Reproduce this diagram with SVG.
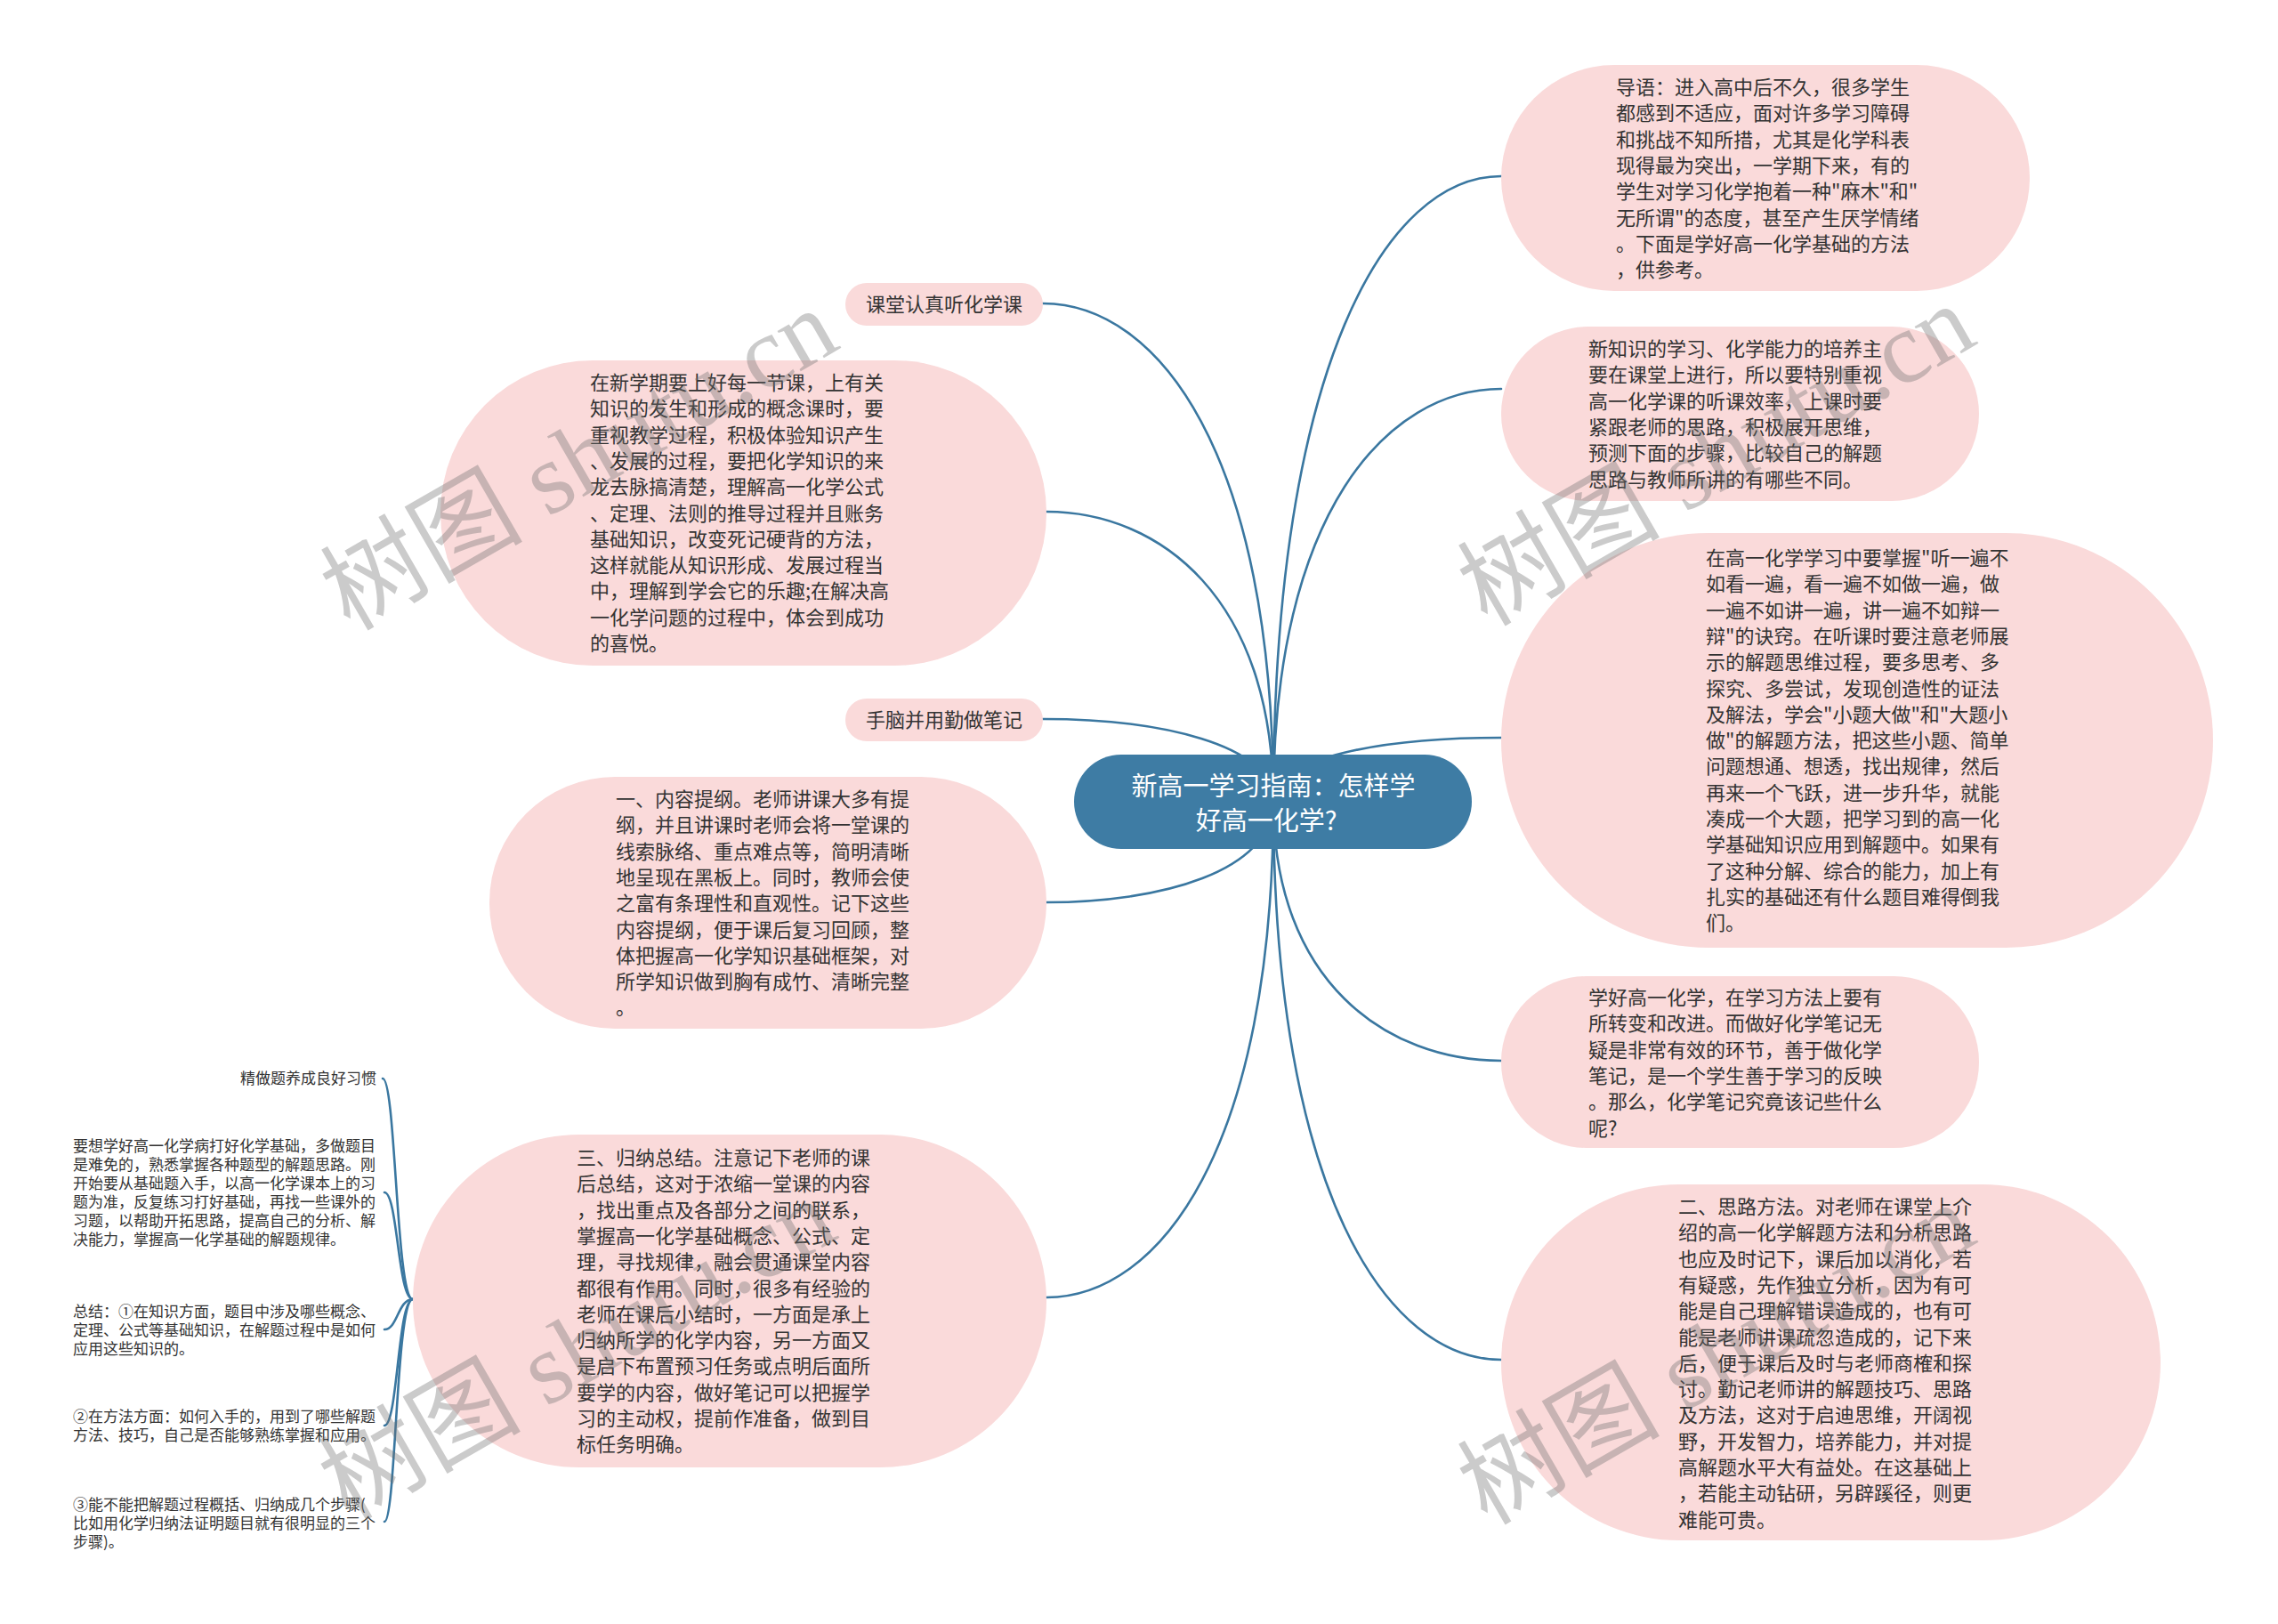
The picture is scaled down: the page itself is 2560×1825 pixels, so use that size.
<svg xmlns="http://www.w3.org/2000/svg" width="2560" height="1825" viewBox="0 0 2560 1825">
<style>
.bg{fill:#ffffff}
.node{fill:#fadada}
.root{fill:#3e7ca4}
.t{font-family:"Noto Sans CJK SC","Noto Sans",sans-serif;font-size:22px;fill:#333333}
.rt{font-family:"Noto Sans CJK SC","Noto Sans",sans-serif;font-size:29px;fill:#ffffff}
.lt{font-family:"Noto Sans CJK SC","Noto Sans",sans-serif;font-size:17px;fill:#333333}
.edge{fill:none;stroke:#3a77a0;stroke-width:2.6;stroke-linecap:round}
.wm{font-family:"Liberation Serif","Noto Sans CJK SC",serif;font-size:114px;fill:#707070;opacity:0.36}
</style>
<rect class="bg" x="0" y="0" width="2560" height="1825"/>
<g id="connectors">
<path class="edge" d="M1431,900 C1431,409 1559,198 1687,198"/>
<path class="edge" d="M1431,900 C1431,576 1559,437 1687,437"/>
<path class="edge" d="M1431,900 C1431,850 1559,829 1687,829"/>
<path class="edge" d="M1431,900 C1431,1104 1559,1192 1687,1192"/>
<path class="edge" d="M1431,900 C1431,1340 1559,1528 1687,1528"/>
<path class="edge" d="M1431,900 C1431,509 1301,341 1172,341"/>
<path class="edge" d="M1431,900 C1431,672 1303,575 1176,575"/>
<path class="edge" d="M1431,900 C1431,836 1301,808 1172,808"/>
<path class="edge" d="M1431,900 C1431,980 1303,1014 1176,1014"/>
<path class="edge" d="M1431,900 C1431,1291 1303,1458 1176,1458"/>
<path class="edge" d="M464,1460 C445,1460 445,1212 430,1212"/>
<path class="edge" d="M464,1460 C447,1460 447,1340 432,1340"/>
<path class="edge" d="M464,1460 C447,1460 447,1494 432,1494"/>
<path class="edge" d="M464,1460 C447,1460 447,1602 432,1602"/>
<path class="edge" d="M464,1460 C445,1460 445,1710 432,1710"/>
</g>
<g id="root">
<rect class="root" x="1207" y="848" width="447" height="106" rx="53"/>
<text class="rt" text-anchor="middle"><tspan x="1431" y="894">新高一学习指南：怎样学</tspan><tspan x="1423" y="933">好高一化学?</tspan></text>
</g>
<g id="n1">
<rect class="node" x="1687" y="73" width="594" height="254" rx="127"/>
<text class="t" x="1816" y="106"><tspan x="1816">导语：进入高中后不久，很多学生</tspan><tspan x="1816" dy="29.3">都感到不适应，面对许多学习障碍</tspan><tspan x="1816" dy="29.3">和挑战不知所措，尤其是化学科表</tspan><tspan x="1816" dy="29.3">现得最为突出，一学期下来，有的</tspan><tspan x="1816" dy="29.3">学生对学习化学抱着一种"麻木"和"</tspan><tspan x="1816" dy="29.3">无所谓"的态度，甚至产生厌学情绪</tspan><tspan x="1816" dy="29.3">。下面是学好高一化学基础的方法</tspan><tspan x="1816" dy="29.3">，供参考。</tspan></text>
</g>
<g id="n2">
<rect class="node" x="1687" y="367" width="537" height="196" rx="98"/>
<text class="t" x="1785" y="400"><tspan x="1785">新知识的学习、化学能力的培养主</tspan><tspan x="1785" dy="29.3">要在课堂上进行，所以要特别重视</tspan><tspan x="1785" dy="29.3">高一化学课的听课效率，上课时要</tspan><tspan x="1785" dy="29.3">紧跟老师的思路，积极展开思维，</tspan><tspan x="1785" dy="29.3">预测下面的步骤，比较自己的解题</tspan><tspan x="1785" dy="29.3">思路与教师所讲的有哪些不同。</tspan></text>
</g>
<g id="n3">
<rect class="node" x="1687" y="599" width="800" height="466" rx="233"/>
<text class="t" x="1917" y="635"><tspan x="1917">在高一化学学习中要掌握"听一遍不</tspan><tspan x="1917" dy="29.3">如看一遍，看一遍不如做一遍，做</tspan><tspan x="1917" dy="29.3">一遍不如讲一遍，讲一遍不如辩一</tspan><tspan x="1917" dy="29.3">辩"的诀窍。在听课时要注意老师展</tspan><tspan x="1917" dy="29.3">示的解题思维过程，要多思考、多</tspan><tspan x="1917" dy="29.3">探究、多尝试，发现创造性的证法</tspan><tspan x="1917" dy="29.3">及解法，学会"小题大做"和"大题小</tspan><tspan x="1917" dy="29.3">做"的解题方法，把这些小题、简单</tspan><tspan x="1917" dy="29.3">问题想通、想透，找出规律，然后</tspan><tspan x="1917" dy="29.3">再来一个飞跃，进一步升华，就能</tspan><tspan x="1917" dy="29.3">凑成一个大题，把学习到的高一化</tspan><tspan x="1917" dy="29.3">学基础知识应用到解题中。如果有</tspan><tspan x="1917" dy="29.3">了这种分解、综合的能力，加上有</tspan><tspan x="1917" dy="29.3">扎实的基础还有什么题目难得倒我</tspan><tspan x="1917" dy="29.3">们。</tspan></text>
</g>
<g id="n4">
<rect class="node" x="1687" y="1097" width="537" height="193" rx="96"/>
<text class="t" x="1785" y="1129"><tspan x="1785">学好高一化学，在学习方法上要有</tspan><tspan x="1785" dy="29.3">所转变和改进。而做好化学笔记无</tspan><tspan x="1785" dy="29.3">疑是非常有效的环节，善于做化学</tspan><tspan x="1785" dy="29.3">笔记，是一个学生善于学习的反映</tspan><tspan x="1785" dy="29.3">。那么，化学笔记究竟该记些什么</tspan><tspan x="1785" dy="29.3">呢?</tspan></text>
</g>
<g id="n5">
<rect class="node" x="1687" y="1331" width="741" height="400" rx="200"/>
<text class="t" x="1886" y="1364"><tspan x="1886">二、思路方法。对老师在课堂上介</tspan><tspan x="1886" dy="29.3">绍的高一化学解题方法和分析思路</tspan><tspan x="1886" dy="29.3">也应及时记下，课后加以消化，若</tspan><tspan x="1886" dy="29.3">有疑惑，先作独立分析，因为有可</tspan><tspan x="1886" dy="29.3">能是自己理解错误造成的，也有可</tspan><tspan x="1886" dy="29.3">能是老师讲课疏忽造成的，记下来</tspan><tspan x="1886" dy="29.3">后，便于课后及时与老师商榷和探</tspan><tspan x="1886" dy="29.3">讨。勤记老师讲的解题技巧、思路</tspan><tspan x="1886" dy="29.3">及方法，这对于启迪思维，开阔视</tspan><tspan x="1886" dy="29.3">野，开发智力，培养能力，并对提</tspan><tspan x="1886" dy="29.3">高解题水平大有益处。在这基础上</tspan><tspan x="1886" dy="29.3">，若能主动钻研，另辟蹊径，则更</tspan><tspan x="1886" dy="29.3">难能可贵。</tspan></text>
</g>
<g id="n6">
<rect class="node" x="950" y="318" width="222" height="48" rx="24"/>
<text class="t" x="1061" y="350" text-anchor="middle">课堂认真听化学课</text>
</g>
<g id="n7">
<rect class="node" x="495" y="405" width="681" height="343" rx="171"/>
<text class="t" x="663" y="438"><tspan x="663">在新学期要上好每一节课，上有关</tspan><tspan x="663" dy="29.3">知识的发生和形成的概念课时，要</tspan><tspan x="663" dy="29.3">重视教学过程，积极体验知识产生</tspan><tspan x="663" dy="29.3">、发展的过程，要把化学知识的来</tspan><tspan x="663" dy="29.3">龙去脉搞清楚，理解高一化学公式</tspan><tspan x="663" dy="29.3">、定理、法则的推导过程并且账务</tspan><tspan x="663" dy="29.3">基础知识，改变死记硬背的方法，</tspan><tspan x="663" dy="29.3">这样就能从知识形成、发展过程当</tspan><tspan x="663" dy="29.3">中，理解到学会它的乐趣;在解决高</tspan><tspan x="663" dy="29.3">一化学问题的过程中，体会到成功</tspan><tspan x="663" dy="29.3">的喜悦。</tspan></text>
</g>
<g id="n8">
<rect class="node" x="950" y="785" width="222" height="48" rx="24"/>
<text class="t" x="1061" y="817" text-anchor="middle">手脑并用勤做笔记</text>
</g>
<g id="n9">
<rect class="node" x="550" y="873" width="626" height="283" rx="141"/>
<text class="t" x="692" y="906"><tspan x="692">一、内容提纲。老师讲课大多有提</tspan><tspan x="692" dy="29.3">纲，并且讲课时老师会将一堂课的</tspan><tspan x="692" dy="29.3">线索脉络、重点难点等，简明清晰</tspan><tspan x="692" dy="29.3">地呈现在黑板上。同时，教师会使</tspan><tspan x="692" dy="29.3">之富有条理性和直观性。记下这些</tspan><tspan x="692" dy="29.3">内容提纲，便于课后复习回顾，整</tspan><tspan x="692" dy="29.3">体把握高一化学知识基础框架，对</tspan><tspan x="692" dy="29.3">所学知识做到胸有成竹、清晰完整</tspan><tspan x="692" dy="29.3">。</tspan></text>
</g>
<g id="n10">
<rect class="node" x="464" y="1275" width="712" height="374" rx="187"/>
<text class="t" x="648" y="1309"><tspan x="648">三、归纳总结。注意记下老师的课</tspan><tspan x="648" dy="29.3">后总结，这对于浓缩一堂课的内容</tspan><tspan x="648" dy="29.3">，找出重点及各部分之间的联系，</tspan><tspan x="648" dy="29.3">掌握高一化学基础概念、公式、定</tspan><tspan x="648" dy="29.3">理，寻找规律，融会贯通课堂内容</tspan><tspan x="648" dy="29.3">都很有作用。同时，很多有经验的</tspan><tspan x="648" dy="29.3">老师在课后小结时，一方面是承上</tspan><tspan x="648" dy="29.3">归纳所学的化学内容，另一方面又</tspan><tspan x="648" dy="29.3">是启下布置预习任务或点明后面所</tspan><tspan x="648" dy="29.3">要学的内容，做好笔记可以把握学</tspan><tspan x="648" dy="29.3">习的主动权，提前作准备，做到目</tspan><tspan x="648" dy="29.3">标任务明确。</tspan></text>
</g>
<g id="n11">
<text class="lt" x="423" y="1218" text-anchor="end">精做题养成良好习惯</text>
</g>
<g id="n12">
<text class="lt" x="82" y="1294"><tspan x="82">要想学好高一化学病打好化学基础，多做题目</tspan><tspan x="82" dy="21">是难免的，熟悉掌握各种题型的解题思路。刚</tspan><tspan x="82" dy="21">开始要从基础题入手，以高一化学课本上的习</tspan><tspan x="82" dy="21">题为准，反复练习打好基础，再找一些课外的</tspan><tspan x="82" dy="21">习题，以帮助开拓思路，提高自己的分析、解</tspan><tspan x="82" dy="21">决能力，掌握高一化学基础的解题规律。</tspan></text>
</g>
<g id="n13">
<text class="lt" x="82" y="1480"><tspan x="82">总结：①在知识方面，题目中涉及哪些概念、</tspan><tspan x="82" dy="21">定理、公式等基础知识，在解题过程中是如何</tspan><tspan x="82" dy="21">应用这些知识的。</tspan></text>
</g>
<g id="n14">
<text class="lt" x="82" y="1598"><tspan x="82">②在方法方面：如何入手的，用到了哪些解题</tspan><tspan x="82" dy="21">方法、技巧，自己是否能够熟练掌握和应用。</tspan></text>
</g>
<g id="n15">
<text class="lt" x="82" y="1697"><tspan x="82">③能不能把解题过程概括、归纳成几个步骤(</tspan><tspan x="82" dy="21">比如用化学归纳法证明题目就有很明显的三个</tspan><tspan x="82" dy="21">步骤)。</tspan></text>
</g>
<g id="watermarks">
<text class="wm" text-anchor="middle" transform="translate(670,550) rotate(-30)">树图 shutu.cn</text>
<text class="wm" text-anchor="middle" transform="translate(1948,545) rotate(-30)">树图 shutu.cn</text>
<text class="wm" text-anchor="middle" transform="translate(668,1550) rotate(-30)">树图 shutu.cn</text>
<text class="wm" text-anchor="middle" transform="translate(1948,1555) rotate(-30)">树图 shutu.cn</text>
</g>
</svg>
